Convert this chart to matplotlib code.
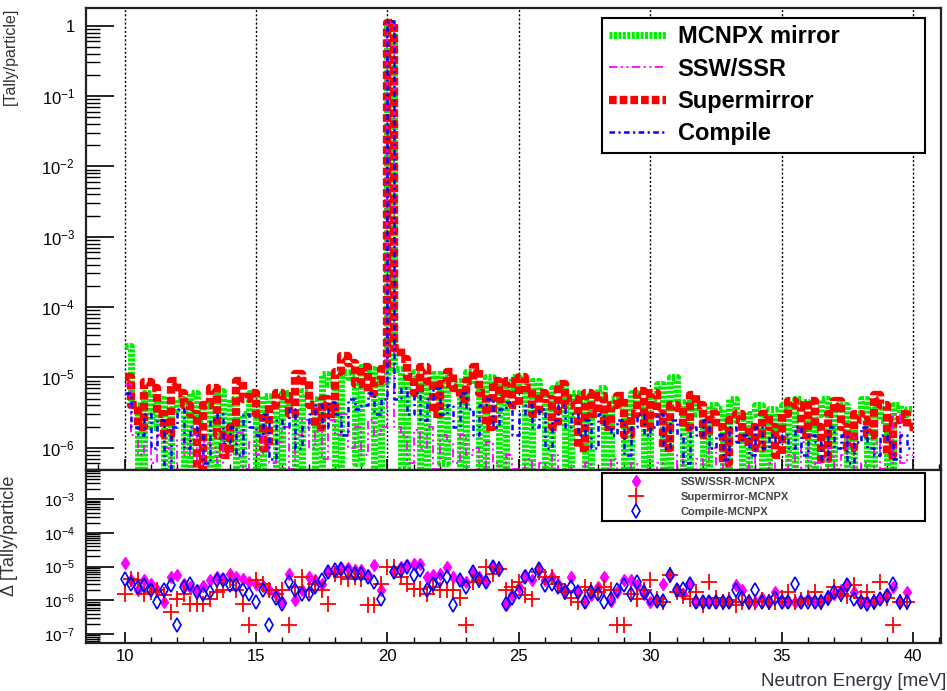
"""Neutron energy spectrum: four tallies on top, differences to MCNPX below."""

import numpy as np
import matplotlib

matplotlib.use("Agg")
import matplotlib.pyplot as plt  # noqa: E402
from matplotlib.ticker import FuncFormatter, LogLocator, MultipleLocator, NullFormatter  # noqa: E402

plt.rcParams["font.family"] = ["Liberation Sans", "DejaVu Sans"]
plt.rcParams["mathtext.fontset"] = "custom"
plt.rcParams["mathtext.rm"] = "Liberation Sans"
plt.rcParams["lines.scale_dashes"] = False

# ---- data (tally/particle, in units of 1e-6) -------------------------------
SCALE = 1e-6
energy_edges = np.linspace(10.0, 40.0, 121)      # meV, 0.25 meV bins
diff_energy = np.linspace(10.0, 39.75, 120)      # meV, one point per bin

mcnpx_mirror = [
    28, 4, 0.4, 6, 2, 5, 0.3, 3.5, 5, 0.4, 6, 2.5, 4, 0.3, 6.5, 1, 5, 0.4, 3, 6,
    0.5, 5.5, 4, 0.3, 6, 3, 0.5, 6.5, 5, 0.4, 11, 8, 0.5, 12, 10, 0.6, 14, 13, 0.5, 9,
    1.1e6, 13, 0.5, 10, 12, 0.4, 8, 11, 0.6, 10, 9, 0.4, 12, 8, 0.5, 10, 9, 0.4, 7, 10,
    8, 0.4, 9, 6, 0.3, 7, 8, 0.5, 6, 5, 0.3, 6, 7, 0.4, 5, 4, 0.3, 6, 4, 0.5,
    5, 8, 0.3, 10, 4.5, 0.4, 5, 3, 0.3, 4, 3.5, 0.4, 5, 2.5, 0.3, 3, 4, 0.4, 3.5, 2,
    4, 0.3, 5, 4.5, 0.4, 3, 5, 0.3, 3.5, 4, 0.4, 3, 5, 0.3, 3.5, 2.5, 0.4, 4, 3, 3.5,
]
ssw_ssr = [
    8, 1.5, 0.8, 1.2, 0.6, 1.5, 1, 0.5, 1.3, 0.8, 1.5, 0.4, 1.2, 1, 0.6, 1.4, 0.8, 1.6, 0.5, 1.2,
    0.8, 1.5, 0.6, 1.2, 2, 0.5, 1.5, 2.5, 1, 1.8, 0.7, 2.5, 1.5, 3, 1, 2, 0.8, 2.5, 1.5, 2,
    1.1e6, 2, 1.5, 0.6, 1.8, 1, 2, 0.5, 1.5, 1.2, 0.6, 1.5, 0.8, 1, 0.4, 1.2, 0.6, 0.3, 0.8, 0.5,
    0.4, 0.7, 0.3, 0.6, 0.4, 0.8, 0.3, 0.5, 0.4, 0.3, 0.6, 0.4, 0.3, 0.5, 0.7, 0.3, 0.4, 0.6, 0.3, 0.5,
    0.3, 0.6, 0.4, 0.3, 0.8, 0.5, 0.3, 0.7, 0.4, 1, 0.3, 0.6, 0.4, 0.3, 0.5, 0.8, 0.3, 0.4, 0.6, 0.3,
    0.5, 0.8, 0.3, 1.2, 0.4, 0.6, 0.3, 1, 0.5, 0.8, 1.5, 0.4, 0.6, 0.3, 1.2, 0.5, 0.4, 3, 0.6, 0.8,
]
supermirror = [
    10, 4, 2, 8.5, 7, 3, 1.5, 9, 6, 4, 3, 0.5, 4, 7, 1.5, 0.8, 2, 9, 5, 6,
    3, 1, 4, 6, 5.5, 3, 11, 9, 4, 2, 5, 3, 12, 20, 16, 8, 14, 6, 9, 13,
    1.1e6, 26, 18, 10, 6, 14, 9, 3, 8, 12, 7, 5, 9, 14, 6, 2, 9, 5, 9, 4,
    10, 7, 3, 6, 5, 2, 8, 4, 5, 1, 6, 3, 5.5, 2, 4, 5.5, 1.5, 3, 6.5, 2,
    6, 3, 1, 4, 3.7, 2, 5.6, 4, 1.5, 3, 2, 0.6, 2.5, 3, 1.2, 2, 1, 3, 2, 0.8,
    3, 4.6, 4, 1.5, 4.6, 2, 0.7, 3, 4.6, 2, 1, 3, 2.5, 1.5, 5.6, 4, 0.8, 2.5, 3, 2,
]
compile_ = [
    6, 2, 1.5, 3, 1, 2.5, 0.5, 2, 3.5, 1, 2, 1.5, 0.6, 2.5, 3, 1.2, 2, 0.8, 3, 2,
    1.5, 3, 0.7, 2.5, 2, 3.5, 1, 2, 3, 4, 2, 4.5, 3, 1.5, 5, 3.5, 4, 6, 3, 5,
    1.15e6, 5, 7, 3, 6, 2.5, 5, 7, 3, 4, 2, 6, 3.5, 1.5, 4, 5, 2, 3.5, 4.5, 1.5,
    3, 4, 2, 3.5, 1, 2.5, 4, 2, 3, 1.5, 2.5, 1, 3, 2, 1.5, 2.5, 0.8, 2, 3, 1.5,
    2, 3, 1, 2.5, 1.5, 0.6, 2, 1.5, 2.5, 1, 1.5, 0.7, 2, 1.2, 1.5, 0.8, 2, 1, 1.5, 1.2,
    1.5, 1, 2, 0.8, 1.5, 1.2, 0.7, 2, 1, 1.5, 0.6, 1.2, 2, 1, 0.8, 1.5, 1.2, 0.7, 1.5, 1,
]

nan = np.nan
diff_ssw = [
    13, 3.9, 2, 3.9, 3, 2, 0.9, 5, 5.5, 3, 2.5, 2, 2.6, 3.9, 5, 4.4, 6, 5, 4.4, 3.5,
    3, 2.6, 2, 1.5, 0.9, 6, 1, 2, 5, 4, 3, 7, 7, 9, 9, 8, 8, 5.5, 11, 2,
    nan, 7, 9.8, 10.9, 12.3, 12.3, 4.9, 5.5, 6.2, 9.8, 4.9, 3.9, 3.5, 7, 5, 3.5, 9.8, 8.7, 0.7, 1.4,
    2.5, 5.5, 3.9, 8.7, 3.9, 5, 3, 1.96, 4.9, 1.75, 0.88, 1.4, 2.5, 4.9, 0.98, 1.75, 3.9, 3.9, 2.8, 1.5,
    0.88, 0.98, 3.1, 5.5, 1.96, 1.5, 3.1, 0.88, 0.88, 0.88, 0.9, 0.88, 0.88, 2.8, 1.96, 0.88, 0.88, 1.2, 0.88, 1.75,
    0.88, 0.88, 0.88, 0.88, 1.1, 0.88, 0.98, 1.2, 1.5, 2, 3.1, 1.75, 0.88, 0.88, 0.88, 1.1, 1.5, 2.5, 0.88, 1.75,
]
diff_supermirror = [
    1.56, 4.4, 3.9, 1.56, 1.75, 2, 1.4, 0.45, 1.1, 1.5, 0.8, 0.8, 0.8, 1.1, 1.75, 1.96, 3.9, 1.96, 0.8, 0.18,
    3.9, 3.1, 1.96, 1.5, 1.96, 0.18, 2.5, 4.9, 1.96, 3, 2, 0.8, 6.2, 4.9, 4.4, 5, 4.4, 0.7, 0.7, 3,
    9.8, 9.8, 5, 3, 2.2, 2.2, 1.5, 2.5, 1.96, 1.96, 1.96, 1.2, 0.18, 3.5, 4, 9.8, 6, 8.7, 1.96, 2.5,
    3.5, 1.4, 1.1, 7, 5, 4.9, 3, 1.75, 1.2, 0.88, 2.5, 2, 1.75, 2.5, 2, 0.18, 0.18, 1.5, 1.1, 2,
    3.9, 1.1, 0.9, 5.5, 1.75, 1.3, 1.1, 1.75, 0.7, 3.5, 1.2, 0.9, 1, 0.7, 0.9, 0.88, 0.88, 1, 0.9, 0.88,
    1.2, 1.75, 0.88, 1, 1.2, 1.75, 0.9, 1.2, 2.5, 1.5, 1.3, 2.8, 1.2, 1.75, 0.9, 3.5, 1.2, 0.18, 0.9, 0.88,
]
diff_compile = [
    4.4, 3.1, 2.5, 2.8, 2, 0.88, 1.96, 2.8, 0.18, 2.5, 3.1, 1.75, 1.56, 1.75, 3.9, 3.9, 2.8, 2.8, 1.96, 1.5,
    0.88, 1.96, 0.18, 1.2, 0.8, 3.5, 1.96, 1.56, 1.56, 2.5, 4, 7, 7.8, 8.7, 7, 6, 6.2, 4.9, 3.5, 1.1,
    nan, 7, 7.8, 9.8, 5.5, 7.8, 1.96, 3, 3.9, 4.9, 0.7, 3.9, 2.5, 7, 4, 3.5, 9.8, 8.7, 0.8, 1.2,
    1.75, 4.9, 5.5, 8.7, 2.8, 3, 2.5, 1.75, 2.5, 1.75, 0.88, 1.75, 1.5, 0.88, 1.1, 1.96, 2.8, 1.56, 3.5, 1.75,
    1.2, 0.98, 0.98, 5.5, 1.96, 2.2, 3.1, 0.88, 0.88, 0.88, 0.88, 0.88, 0.88, 1.96, 1.2, 0.88, 1.96, 0.88, 0.88, 1.2,
    0.88, 0.88, 3.1, 0.88, 0.88, 0.88, 0.88, 1.2, 1.75, 1.5, 2.8, 1.1, 0.88, 0.8, 0.88, 1.1, 1.3, 3.1, 0.88, 0.88,
]

W, H = 947, 691


def log_label(v, _pos):
    e = int(round(np.log10(v)))
    return "1" if e == 0 else r"$\mathregular{10^{%d}}$" % e


def style_log_axis(ax, labelsize):
    ax.set_yscale("log")
    ax.yaxis.set_major_locator(LogLocator(base=10, numticks=20))
    ax.yaxis.set_minor_locator(LogLocator(base=10, subs=np.arange(2, 10), numticks=20))
    ax.yaxis.set_major_formatter(FuncFormatter(log_label))
    ax.yaxis.set_minor_formatter(NullFormatter())
    ax.xaxis.set_major_locator(MultipleLocator(5))
    ax.xaxis.set_minor_locator(MultipleLocator(1))
    ax.tick_params(axis="y", which="major", direction="in", length=20, width=1.2,
                   labelsize=labelsize, pad=8, right=False)
    ax.tick_params(axis="y", which="minor", direction="in", length=10, width=1.0, right=False)
    ax.tick_params(axis="x", which="major", direction="in", length=8, width=1.2,
                   labelsize=12, pad=4, top=False)
    ax.tick_params(axis="x", which="minor", direction="in", length=4, width=1.0, top=False)
    for s in ax.spines.values():
        s.set_linewidth(1.6)
        s.set_color("#222222")
    ax.set_xlim(8.53, 41.06)


fig = plt.figure(figsize=(W / 100, H / 100), dpi=100)
left, right = 86 / W, 941 / W
ax_top = fig.add_axes([left, 1 - 470 / H, right - left, (470 - 8) / H])
ax_bot = fig.add_axes([left, 1 - 643 / H, right - left, (643 - 470) / H])

# ---- top panel: histograms (legend order; z sets the overlap) --------------
series = [
    ("MCNPX mirror", mcnpx_mirror, "#00ee00", 5.0, (0, (2.2, 1.0)), 2),
    ("SSW/SSR", ssw_ssr, "#ff00ff", 1.3, (0, (6, 2.5, 1.5, 2.5, 1.5, 2.5)), 4),
    ("Supermirror", supermirror, "#ff0000", 6.0, (0, (5.5, 2.2)), 3),
    ("Compile", compile_, "#0000ff", 1.8, (0, (4, 2.5, 1.5, 2.5)), 5),
]
for label, vals, color, lw, ls, z in series:
    y = np.asarray(vals, dtype=float) * SCALE
    ax_top.step(energy_edges, np.append(y, y[-1]), where="post", color=color,
                lw=lw, linestyle=ls, label=label, zorder=z)

style_log_axis(ax_top, 12)
ax_top.set_ylim(10 ** -6.317, 10 ** 0.252)
ax_top.tick_params(axis="x", labelbottom=False)
for xv in range(10, 41, 5):
    ax_top.axvline(xv, color="black", lw=1.0, linestyle=(0, (1.5, 1.5)), zorder=1.5)

leg = ax_top.legend(loc="upper left", mode="expand",
                    bbox_to_anchor=(602 / W, 1 - 153 / H, 323 / W, 135 / H),
                    bbox_transform=fig.transFigure, fancybox=False, framealpha=1,
                    edgecolor="black", prop={"weight": "bold", "size": 17},
                    handlelength=2.4, handletextpad=0.5, labelspacing=0.4,
                    borderpad=0.3, borderaxespad=0)
leg.get_frame().set_linewidth(1.5)
leg.set_zorder(10)

# ---- bottom panel: differences ---------------------------------------------
ax_bot.plot(diff_energy, np.asarray(diff_ssw) * SCALE, linestyle="none", marker="d",
            ms=6, color="#ff00ff", label="SSW/SSR-MCNPX")
ax_bot.plot(diff_energy, np.asarray(diff_supermirror) * SCALE, linestyle="none", marker="+",
            ms=11, mew=1.3, color="#ff0000", label="Supermirror-MCNPX")
ax_bot.plot(diff_energy, np.asarray(diff_compile) * SCALE, linestyle="none", marker="d",
            ms=7.5, mew=1.2, mfc="none", mec="#0000ff", label="Compile-MCNPX")

style_log_axis(ax_bot, 11)
ax_bot.set_ylim(10 ** -7.269, 10 ** -2.134)

leg2 = ax_bot.legend(loc="upper left", mode="expand",
                     bbox_to_anchor=(602 / W, 1 - 524 / H, 323 / W, 51 / H),
                     bbox_transform=fig.transFigure, fancybox=False, framealpha=1,
                     edgecolor="black", prop={"weight": "bold", "size": 8},
                     handlelength=5.5, handletextpad=1.2, labelspacing=0.45,
                     borderpad=0.35, borderaxespad=0, labelcolor="#444444")
leg2.get_frame().set_linewidth(1.5)

# ---- titles ------------------------------------------------------------------
fig.text(10 / W, 1 - 8 / H, "[Tally/particle]", rotation=90, ha="center", va="top",
         fontsize=11.5, color="#333333")
fig.text(10 / W, 1 - 476 / H, "\u0394 [Tally/particle", rotation=90, ha="center", va="top",
         fontsize=13, color="#333333")
fig.text(0.999, 1 - 681 / H, "Neutron Energy [meV]", ha="right", va="center",
         fontsize=13.5, color="#333344")

fig.savefig("out.png", dpi=100)
